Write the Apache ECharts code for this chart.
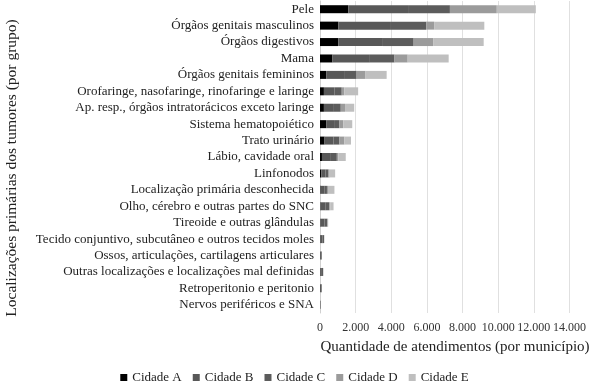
<!DOCTYPE html>
<html><head><meta charset="utf-8">
<script src="https://cdn.jsdelivr.net/npm/echarts@6/dist/echarts.min.js"></script>
<style>html,body{margin:0;padding:0;background:#fff}#c{width:589px;height:389px}</style>
</head><body><div id="c"></div>
<script>
const categories = ["Pele","Órgãos genitais masculinos","Órgãos digestivos","Mama","Órgãos genitais femininos","Orofaringe, nasofaringe, rinofaringe e laringe","Ap. resp., órgãos intratorácicos exceto laringe","Sistema hematopoiético","Trato urinário","Lábio, cavidade oral","Linfonodos","Localização primária desconhecida","Olho, cérebro e outras partes do SNC","Tireoide e outras glândulas","Tecido conjuntivo, subcutâneo e outros tecidos moles","Ossos, articulações, cartilagens articulares","Outras localizações e localizações mal definidas","Retroperitonio e peritonio","Nervos periféricos e SNA"];
const seriesNames = ["Cidade A","Cidade B","Cidade C","Cidade D","Cidade E"];
const cidadeA = [1590,1030,1030,700,350,220,220,350,255,110,70,30,20,10,5,5,5,0,0];
const cidadeB = [3400,2900,2500,2100,1000,600,560,440,500,500,240,210,300,240,130,60,100,60,25];
const cidadeC = [2300,2030,1725,1380,705,400,385,300,335,335,170,150,200,160,90,40,70,40,15];
const cidadeD = [2630,445,1095,740,500,145,240,220,280,80,60,60,60,30,15,5,10,10,0];
const cidadeE = [2190,2815,2835,2300,1185,775,515,500,370,420,310,360,180,20,0,0,0,0,0];
const xTicks = [0,2000,4000,6000,8000,10000,12000,14000];

const colors = ["#000000","#585858","#5c5c5c","#9b9b9b","#bfbfbf"];
const data = [cidadeA,cidadeB,cidadeC,cidadeD,cidadeE];
const FONT = "Liberation Serif";
const chart = echarts.init(document.getElementById('c'));
chart.setOption({
  animation:false,
  textStyle:{fontFamily:FONT},
  grid:{left:320,right:17,top:1,bottom:76,containLabel:false},
  legend:{bottom:0,left:'center',itemWidth:7,itemHeight:7,itemGap:11,icon:'rect',
    textStyle:{fontFamily:FONT,fontSize:13,color:'#222'},data:seriesNames},
  xAxis:{type:'value',min:xTicks[0],max:xTicks[xTicks.length-1],interval:2000,
    axisLine:{show:false},axisTick:{show:false},
    splitLine:{lineStyle:{color:'#e0e0e0'}},
    axisLabel:{fontFamily:FONT,fontSize:12,color:'#333',margin:9,
      formatter:v=>v===0?'0':v.toString().replace(/\B(?=(\d{3})+(?!\d))/g,'.')}},
  yAxis:{type:'category',inverse:true,data:categories,
    axisLine:{show:true,lineStyle:{color:'#d0d0d0'}},axisTick:{show:false},
    axisLabel:{interval:0,fontFamily:FONT,fontSize:13,color:'#222',margin:6}},
  graphic:[
    {type:'text',x:12,y:168,rotation:Math.PI/2,
      style:{text:'Localizações primárias dos tumores (por grupo)',fontFamily:FONT,fontSize:15.5,fill:'#222',
        textAlign:'center',textVerticalAlign:'middle'}},
    {type:'text',x:455,y:347,
      style:{text:'Quantidade de atendimentos (por município)',fontFamily:FONT,fontSize:15,fill:'#222',
        textAlign:'center',textVerticalAlign:'middle'}}
  ],
  series:seriesNames.map((n,i)=>({name:n,type:'bar',stack:'t',barWidth:8,data:data[i],
    itemStyle:{color:colors[i]}}))
});
</script></body></html>
